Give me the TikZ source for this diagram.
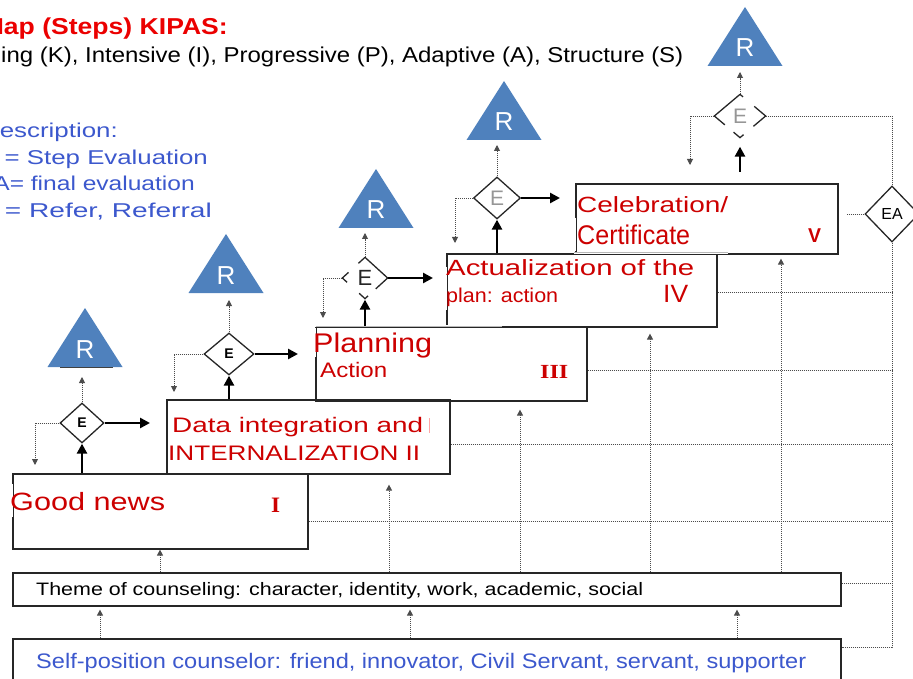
\documentclass[tikz,border=0pt]{standalone}
\usepackage{fontspec}
\setmainfont{Liberation Sans}
\newfontfamily\numfont{Liberation Serif}
\usetikzlibrary{arrows.meta,shapes.geometric}

\definecolor{titlered}{RGB}{235,0,0}
\definecolor{stepred}{RGB}{204,0,0}
\definecolor{legendblue}{RGB}{60,88,205}
\definecolor{triblue}{RGB}{79,129,189}
\definecolor{labelgray}{RGB}{150,150,150}

% font size helper and fixed-width text helper
\newcommand\fsz[1]{\fontsize{#1}{#1}\selectfont}
\newcommand\wbox[2]{\resizebox{#1pt}{\height}{#2}}

% referral triangle: name, base-middle x, base y
\newcommand\reftri[3]{%
  \coordinate (#1) at (#2,#3);
  \fill[triblue] ([xshift=-37.5pt]#1) -- ([xshift=37.5pt]#1) -- ([yshift=59pt]#1) -- cycle;
  \node[inner sep=0pt, anchor=base, text=white] (#1r) at ([yshift=9pt]#1) {\fsz{26}R};
}

\tikzset{
  stepbox/.style={draw=black!85, line width=1.6pt, inner sep=0pt, anchor=north west},
  txt/.style={inner sep=0pt, anchor=base west},
  txte/.style={inner sep=0pt, anchor=base east},
  evalnode/.style={diamond, draw=black!85, line width=1.3pt, inner sep=0pt},
  bigarrow/.style={line width=2.6pt, -{Triangle[length=10pt,width=10pt]}},
  dotline/.style={line width=0.9pt, black!70, dash pattern=on 1pt off 1pt},
  dotarrow/.style={dotline, -{Triangle[length=6pt,width=6pt]}},
  maskline/.style={white, line width=2.6pt},
  faintline/.style={black!28, line width=1pt},
}

\begin{document}
\begin{tikzpicture}[x=1pt,y=-1pt]
\useasboundingbox (0,0) rectangle (913,679);

% heading
\node[txte, text=titlered] (title) at (228,35) {\wbox{246}{\fsz{23}\bfseries Map (Steps) KIPAS:}};
\node[txt] (kipas) at (1,63) {\wbox{682}{\fsz{21.5}ing (K), Intensive (I), Progressive (P), Adaptive (A), Structure (S)}};

% legend
\node[txte, text=legendblue] (leg0) at (118,138) {\wbox{136.7}{\fsz{20}Description:}};
\node[txte, text=legendblue] (leg1) at (208,165) {\wbox{227.4}{\fsz{20}E = Step Evaluation}};
\node[txte, text=legendblue] (leg2) at (195,191) {\wbox{217.8}{\fsz{20}EA= final evaluation}};
\node[txte, text=legendblue] (leg3) at (212,218) {\wbox{234.9}{\fsz{20}R = Refer, Referral}};

% step boxes
\node[stepbox, minimum width=295pt, minimum height=75pt] (s1) at (12,473) {};
\node[stepbox, minimum width=283pt, minimum height=74pt] (s2) at (166,399) {};
\node[stepbox, minimum width=271pt, minimum height=74pt] (s3) at (315,326) {};
\node[stepbox, minimum width=270pt, minimum height=73pt] (s4) at (446,253) {};
\node[stepbox, minimum width=262pt, minimum height=70pt] (s5) at (575,183) {};
\node[stepbox, minimum width=828pt, minimum height=33pt] (theme) at (12,572) {};
\node[stepbox, minimum width=828pt, minimum height=46pt] (self) at (12,638) {};

% edges hidden behind labels, and faint edges
\draw[maskline] (12,484) -- (12,517);
\draw[maskline] (315,328) -- (315,357);
\draw[maskline] (446,267) -- (446,310);
\draw[maskline] (575,218) -- (575,251);
\draw[maskline] (314,326) -- (502,326);
\draw[faintline] (316,326) -- (502,326);
\draw[maskline] (574,253) -- (728,253);
\draw[faintline] (574,253) -- (728,253);

% step labels
\node[txt, text=stepred] (t1a) at (10,510) {\wbox{155}{\fsz{25}Good news}};
\node[txt, text=stepred] (t1n) at (271,512) {\wbox{9}{\numfont\fsz{22}\bfseries I}};
\node[txt, text=stepred] (t2a) at (172,432) {\wbox{251}{\fsz{21}Data integration and}};
\draw[red!35, line width=0.9pt] (429,418) -- (429,433);
\node[txt, text=stepred] (t2b) at (168,460) {\wbox{252}{\fsz{21}INTERNALIZATION II}};
\node[txt, text=stepred] (t3a) at (313,352) {\wbox{119}{\fsz{27}Planning}};
\node[txt, text=stepred] (t3b) at (320,377) {\wbox{67}{\fsz{21}Action}};
\node[txt, text=stepred] (t3n) at (540,378) {\wbox{28}{\numfont\fsz{20}\bfseries III}};
\node[txt, text=stepred] (t4a) at (446,276) {\wbox{248}{\fsz{22}Actualization of the}};
\node[txt, text=stepred] (t4b) at (446,302) {\wbox{112}{\fsz{20}plan: action}};
\node[txt, text=stepred] (t4n) at (663,302) {\wbox{25}{\fsz{25}IV}};
\node[txt, text=stepred] (t5a) at (577,213) {\wbox{151}{\fsz{22}Celebration/}};
\node[txt, text=stepred] (t5b) at (577,244) {\wbox{113}{\fsz{27}Certificate}};
\node[txt, text=stepred] (t5n) at (808,243) {\wbox{13}{\fsz{20}\bfseries V}};
\node[txt] (themetxt) at (36,595) {\wbox{607}{\fsz{18}Theme of counseling: character, identity, work, academic, social}};
\node[txt, text=legendblue] (selftxt) at (36,668) {\wbox{770}{\fsz{21}Self-position counselor: friend, innovator, Civil Servant, servant, supporter}};

% referral triangles
\reftri{T1}{85}{367}
\draw[black!75, line width=0.8pt] (60,367) -- (113,367);
\reftri{T2}{226}{293}
\reftri{T3}{376}{228}
\reftri{T4}{504}{140}
\reftri{T5}{745}{66}

% evaluation diamonds
\node[evalnode, minimum width=44pt, minimum height=40pt] (E1) at (82,423) {\fsz{14}\bfseries E};
\node[evalnode, minimum width=50pt, minimum height=42pt] (E2) at (229,354) {\fsz{14}\bfseries E};
\node[evalnode, draw=none, minimum width=44pt, minimum height=40pt, text=black!85] (E3) at (365,278) {\fsz{22}E};
\draw[black!85, line width=1.3pt, dash pattern=on 8.9pt off 13.4pt on 14.8pt off 16.3pt on 12pt off 10.4pt on 43.1pt off 0pt]
  (E3.north) -- (E3.west) -- (E3.south) -- (E3.east) -- cycle;
\node[evalnode, minimum width=47pt, minimum height=42pt, text=labelgray] (E4) at (497,198) {\fsz{21}E};
\node[evalnode, draw=none, minimum width=50pt, minimum height=42pt, text=labelgray] (E5) at (740,116) {\fsz{21}E};
\draw[black!85, line width=1.3pt, dash pattern=on 47.3pt off 11.4pt on 13pt off 13pt on 30.9pt off 14.7pt]
  (E5.north) -- (E5.west) -- (E5.south) -- (E5.east) -- cycle;
\node[evalnode, minimum width=54pt, minimum height=56pt] (EA) at (892,214) {\fsz{16}EA};

% step -> evaluation
\draw[bigarrow] (s1.north -| E1.south) -- (E1.south);
\draw[bigarrow] (s2.north -| E2.south) -- (E2.south);
\draw[bigarrow, shorten >=1pt] (s3.north -| E3.south) -- (E3.south);
\draw[bigarrow] (s4.north -| E4.south) -- (E4.south);
\coordinate (a5) at (740,172);
\draw[bigarrow, shorten >=9pt] (a5) -- (a5 |- E5.south);

% evaluation -> next step
\coordinate (h1) at (150,423);
\coordinate (h2) at (298,354);
\coordinate (h3) at (433,278);
\coordinate (h4) at (560,198);
\draw[bigarrow] (E1.east) -- (h1);
\draw[bigarrow] (E2.east) -- (h2);
\draw[bigarrow] (E3.east) -- (h3);
\draw[bigarrow] (E4.east) -- (h4);

% evaluation -> back to the step
\coordinate (f1) at (35,465);
\coordinate (f2) at (174,392);
\coordinate (f3) at (323,318);
\coordinate (f4) at (455,243);
\coordinate (f5) at (690,165);
\draw[dotarrow] (E1.west) -| (f1);
\draw[dotarrow] (E2.west) -| (f2);
\draw[dotarrow] (E3.west) -| (f3);
\draw[dotarrow] (E4.west) -| (f4);
\draw[dotarrow] (E5.west) -| (f5);

% evaluation -> referral
\draw[dotarrow, shorten >=10pt] (E1.north) -- (E1.north |- T1);
\draw[dotarrow, shorten >=7pt] (E2.north) -- (E2.north |- T2);
\draw[dotarrow, shorten >=5pt] (E3.north) -- (E3.north |- T3);
\draw[dotarrow, shorten >=5pt] (E4.north) -- (E4.north |- T4);
\draw[dotarrow, shorten >=6pt] (E5.north) -- (E5.north |- T5);

% theme -> steps
\coordinate (u1) at (160,572);
\coordinate (u2) at (389,572);
\coordinate (u3) at (520,572);
\coordinate (u4) at (650,572);
\coordinate (u5) at (781,572);
\draw[dotarrow] (u1) -- (u1 |- s1.south);
\draw[dotarrow, shorten >=10pt] (u2) -- (u2 |- s2.south);
\draw[dotarrow, shorten >=8pt] (u3) -- (u3 |- s3.south);
\draw[dotarrow, shorten >=6pt] (u4) -- (u4 |- s4.south);
\draw[dotarrow, shorten >=4pt] (u5) -- (u5 |- s5.south);

% self-position -> theme
\coordinate (v1) at (100,638);
\coordinate (v2) at (410,638);
\coordinate (v3) at (737,638);
\draw[dotarrow, shorten >=3pt] (v1) -- (v1 |- theme.south);
\draw[dotarrow, shorten >=3pt] (v2) -- (v2 |- theme.south);
\draw[dotarrow, shorten >=3pt] (v3) -- (v3 |- theme.south);

% final evaluation rail
\draw[dotline] (E5.east) -| (EA.north);
\coordinate (ea0) at (847,214);
\draw[dotline] (EA.west) -- (EA.west -| ea0);
\coordinate (r4) at (892,292);
\coordinate (r3) at (892,370);
\coordinate (r2) at (892,444);
\coordinate (r1) at (892,521);
\coordinate (r6) at (892,583);
\coordinate (rb) at (892,647);
\draw[dotline] (EA.south) -- (rb) -- (rb -| self.east);
\draw[dotline] (r4 -| s4.east) -- (r4);
\draw[dotline] (r3 -| s3.east) -- (r3);
\draw[dotline] (r2 -| s2.east) -- (r2);
\draw[dotline] (r1 -| s1.east) -- (r1);
\draw[dotline] (r6 -| theme.east) -- (r6);
\end{tikzpicture}
\end{document}
